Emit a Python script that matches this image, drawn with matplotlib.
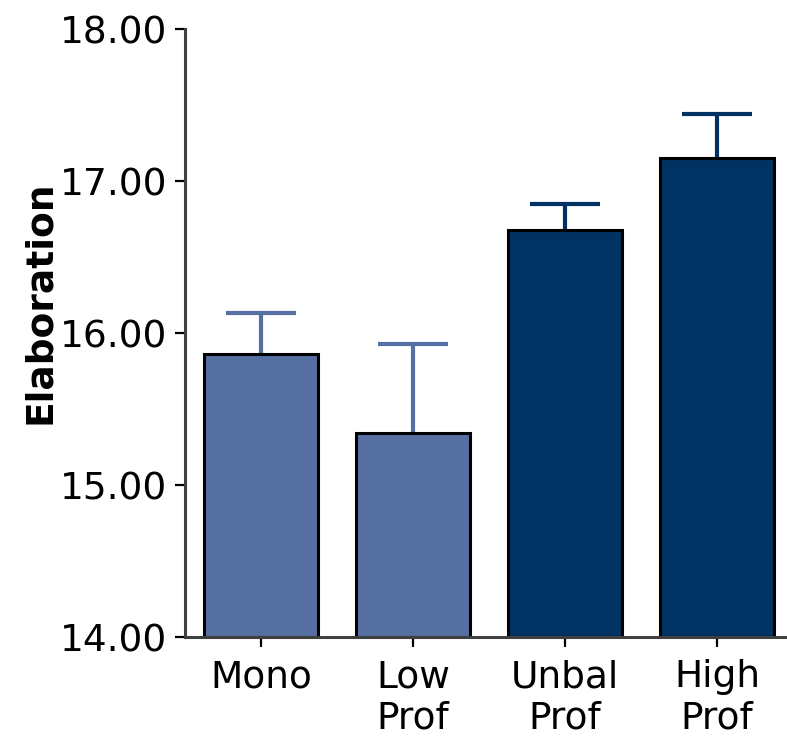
import matplotlib
matplotlib.use("Agg")
import matplotlib.pyplot as plt

categories = ["Mono", "Low\nProf", "Unbal\nProf", "High\nProf"]
means = [15.86, 15.34, 16.68, 17.15]
sem_upper = [0.27, 0.59, 0.17, 0.29]
bar_colors = ["#5670A3", "#5670A3", "#003263", "#003263"]
ytick_values = [14, 15, 16, 17, 18]

plt.rcParams["font.family"] = ["DejaVu Sans"]

fig = plt.figure(figsize=(7.87, 7.36), dpi=100)
ax = fig.add_axes([185 / 787, 99 / 736, 602 / 787, 608 / 736])

x = list(range(len(categories)))

# upper-only error bars, drawn beneath the bars
for xi, m, e, c in zip(x, means, sem_upper, bar_colors):
    _, caps, _ = ax.errorbar([xi], [m], yerr=[[0], [e]], fmt="none", ecolor=c,
                             elinewidth=3, capsize=25, capthick=3, zorder=1)
    caps[0].set_visible(False)

ax.bar(x, [m - 14 for m in means], bottom=14, width=0.75, color=bar_colors,
       edgecolor="black", linewidth=2.2, zorder=2)

ax.set_ylim(14, 18)
ax.set_xlim(-0.5, -0.5 + 602 / 152)
ax.set_yticks(ytick_values)
ax.set_yticklabels([f"{v:.2f}" for v in ytick_values])
ax.set_xticks(x)
ax.set_xticklabels(categories, linespacing=1.2)

for side in ("top", "right"):
    ax.spines[side].set_visible(False)
for side in ("left", "bottom"):
    ax.spines[side].set_color("#404040")
    ax.spines[side].set_linewidth(2.2)

ax.tick_params(axis="both", which="major", labelsize=27, length=7,
               width=1.6, color="black", pad=6)
ax.tick_params(axis="x", pad=9)

ax.set_ylabel("Elaboration", fontsize=27, fontweight="bold")
ax.yaxis.set_label_coords(-127 / 602, 0.55)

fig.savefig("out.png", dpi=100)
